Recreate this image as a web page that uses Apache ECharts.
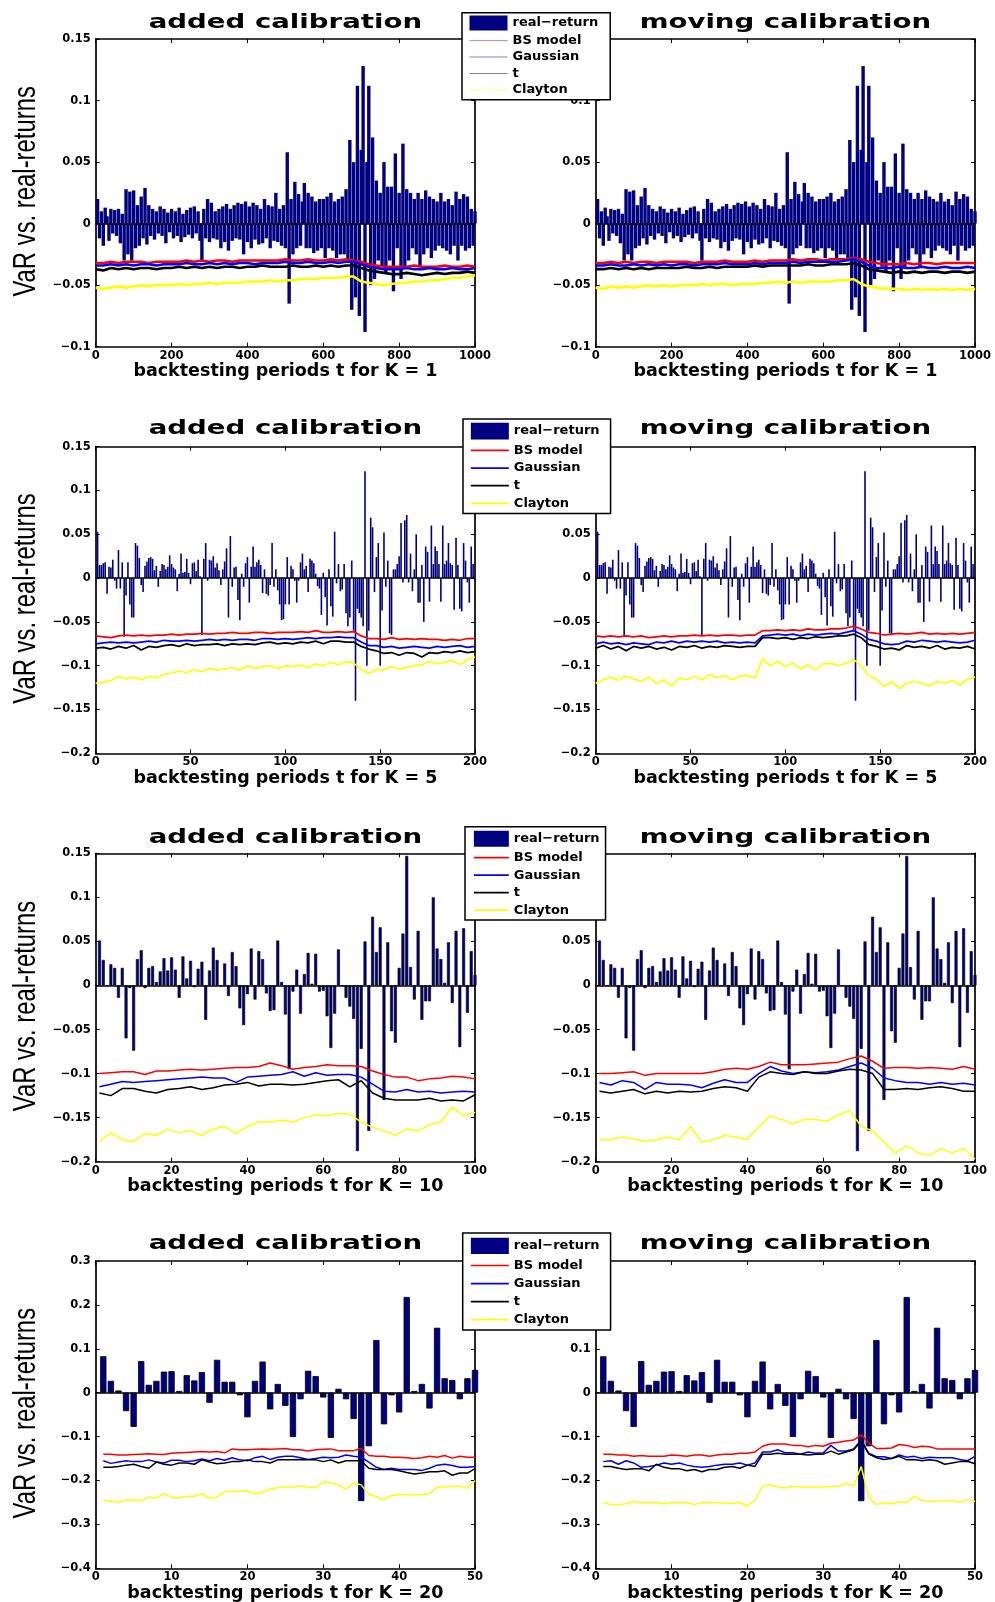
<!DOCTYPE html>
<html><head><meta charset="utf-8">
<script src="https://cdn.jsdelivr.net/npm/echarts@6.0.0/dist/echarts.min.js"></script>
<style>html,body{margin:0;padding:0;background:#fff}#c{width:995px;height:1602px}</style>
</head><body><div id="c"></div>
<script>
// ---------------- DATA ----------------
const NAMES = ['real\u2212return', 'BS model', 'Gaussian', 't', 'Clayton'];
const TITLES = ['added calibration', 'moving calibration'];
const Y_LABEL = 'VaR vs. real-returns';
const X_LABELS = ['backtesting periods t for K = 1', 'backtesting periods t for K = 5',
                  'backtesting periods t for K = 10', 'backtesting periods t for K = 20'];

const X_TICKS_K1 = [0, 200, 400, 600, 800, 1000];
const X_TICKS_K5 = [0, 50, 100, 150, 200];
const X_TICKS_K10 = [0, 20, 40, 60, 80, 100];
const X_TICKS_K20 = [0, 10, 20, 30, 40, 50];
const Y_TICKS_K1 = [-0.1, -0.05, 0, 0.05, 0.1, 0.15];
const Y_TICKS_K5 = [-0.2, -0.15, -0.1, -0.05, 0, 0.05, 0.1, 0.15];
const Y_TICKS_K10 = [-0.2, -0.15, -0.1, -0.05, 0, 0.05, 0.1, 0.15];
const Y_TICKS_K20 = [-0.4, -0.3, -0.2, -0.1, 0, 0.1, 0.2, 0.3];

// K = 1 : real returns sampled every 5 periods (t = 5..1000)
const K1_RET = [
 0.02,-0.012,0.01,-0.018,0.013,0.006,-0.014,0.012,-0.008,0.011,
 -0.01,0.012,-0.016,0.008,-0.03,0.028,-0.025,0.026,-0.03,0.027,
 -0.02,0.015,-0.018,0.022,-0.012,0.029,-0.017,0.015,-0.01,0.012,
 -0.013,0.01,-0.008,0.014,-0.01,0.012,-0.016,0.009,-0.007,0.012,
 -0.012,0.01,-0.01,0.013,-0.015,0.008,-0.011,0.011,-0.009,0.013,
 -0.012,0.014,-0.008,0.01,-0.014,-0.03,0.012,-0.012,0.02,-0.015,
 0.017,-0.012,0.01,-0.013,0.012,-0.02,0.014,-0.015,0.016,-0.022,
 0.012,-0.014,0.015,-0.012,0.017,-0.013,0.016,-0.025,0.018,-0.015,
 0.014,-0.02,0.017,-0.013,0.015,-0.017,0.012,-0.016,0.02,-0.012,
 0.015,-0.02,0.014,-0.014,0.025,-0.015,0.012,-0.018,0.015,-0.02,
 0.058,-0.065,0.02,-0.025,0.034,-0.02,0.024,-0.018,0.018,0.033,
 -0.02,0.025,-0.02,0.022,-0.024,0.018,-0.022,0.02,-0.02,0.02,
 -0.028,0.022,-0.02,0.025,-0.022,0.018,-0.028,0.02,-0.025,0.022,
 -0.025,0.028,-0.03,0.068,-0.07,0.05,-0.06,0.112,-0.075,0.06,
 0.128,-0.088,0.05,0.112,-0.05,0.07,-0.045,0.035,-0.03,0.025,
 -0.035,0.05,-0.04,0.03,-0.03,0.03,-0.055,0.057,-0.02,0.025,
 -0.045,0.065,-0.035,0.028,-0.03,0.025,-0.02,0.02,-0.025,0.025,
 -0.035,0.02,-0.025,0.027,-0.02,0.022,-0.028,0.02,-0.022,0.018,
 -0.018,0.025,-0.02,0.018,-0.022,0.02,-0.025,0.015,-0.018,0.026,
 -0.03,0.02,-0.018,0.024,-0.022,0.022,-0.02,0.012,-0.018,0.01
];
// K = 1 VaR lines sampled every 20 periods (t = 0..1000)
const K1_ADD_BS = [
 -0.032,-0.032,-0.031,-0.032,-0.031,-0.031,-0.031,-0.032,-0.031,-0.031,
 -0.031,-0.031,-0.030,-0.031,-0.030,-0.031,-0.030,-0.030,-0.031,-0.030,
 -0.030,-0.030,-0.030,-0.030,-0.030,-0.029,-0.030,-0.030,-0.029,-0.030,
 -0.030,-0.029,-0.030,-0.029,-0.030,-0.031,-0.033,-0.034,-0.035,-0.035,
 -0.035,-0.035,-0.034,-0.035,-0.035,-0.035,-0.034,-0.035,-0.035,-0.034,-0.035];
const K1_ADD_GAU = [
 -0.034,-0.034,-0.033,-0.034,-0.033,-0.034,-0.033,-0.033,-0.034,-0.033,
 -0.033,-0.033,-0.032,-0.033,-0.033,-0.032,-0.033,-0.032,-0.033,-0.032,
 -0.032,-0.033,-0.032,-0.032,-0.032,-0.031,-0.032,-0.032,-0.031,-0.032,
 -0.032,-0.031,-0.032,-0.031,-0.031,-0.033,-0.035,-0.036,-0.037,-0.037,
 -0.037,-0.036,-0.037,-0.037,-0.036,-0.037,-0.037,-0.036,-0.037,-0.037,-0.036];
const K1_ADD_T = [
 -0.037,-0.038,-0.036,-0.037,-0.036,-0.037,-0.036,-0.036,-0.037,-0.036,
 -0.036,-0.035,-0.036,-0.035,-0.036,-0.035,-0.036,-0.035,-0.035,-0.036,
 -0.035,-0.035,-0.034,-0.035,-0.035,-0.035,-0.034,-0.035,-0.035,-0.034,
 -0.035,-0.034,-0.035,-0.034,-0.034,-0.036,-0.038,-0.039,-0.040,-0.041,
 -0.041,-0.040,-0.041,-0.042,-0.041,-0.040,-0.041,-0.040,-0.040,-0.039,-0.040];
const K1_ADD_CLA = [
 -0.052,-0.053,-0.052,-0.051,-0.052,-0.051,-0.050,-0.051,-0.050,-0.050,
 -0.050,-0.049,-0.050,-0.049,-0.049,-0.048,-0.049,-0.048,-0.048,-0.048,
 -0.047,-0.047,-0.047,-0.046,-0.047,-0.046,-0.046,-0.045,-0.045,-0.045,
 -0.044,-0.044,-0.044,-0.043,-0.043,-0.047,-0.048,-0.049,-0.050,-0.049,
 -0.048,-0.048,-0.047,-0.047,-0.046,-0.046,-0.045,-0.044,-0.044,-0.043,-0.042];
const K1_MOV_BS = [
 -0.032,-0.032,-0.031,-0.032,-0.031,-0.032,-0.031,-0.031,-0.032,-0.031,
 -0.031,-0.031,-0.031,-0.032,-0.031,-0.031,-0.031,-0.030,-0.031,-0.031,
 -0.031,-0.030,-0.031,-0.030,-0.030,-0.030,-0.029,-0.030,-0.029,-0.029,
 -0.030,-0.029,-0.029,-0.029,-0.028,-0.029,-0.031,-0.032,-0.033,-0.033,
 -0.033,-0.032,-0.033,-0.032,-0.032,-0.033,-0.032,-0.032,-0.032,-0.032,-0.032];
const K1_MOV_GAU = [
 -0.034,-0.034,-0.033,-0.034,-0.034,-0.033,-0.034,-0.033,-0.034,-0.033,
 -0.034,-0.033,-0.033,-0.034,-0.033,-0.033,-0.033,-0.032,-0.033,-0.033,
 -0.033,-0.032,-0.033,-0.032,-0.032,-0.032,-0.031,-0.032,-0.031,-0.031,
 -0.031,-0.031,-0.031,-0.030,-0.029,-0.031,-0.034,-0.036,-0.036,-0.036,
 -0.035,-0.036,-0.036,-0.035,-0.036,-0.036,-0.035,-0.036,-0.036,-0.035,-0.036];
const K1_MOV_T = [
 -0.037,-0.037,-0.036,-0.037,-0.036,-0.037,-0.036,-0.037,-0.036,-0.036,
 -0.036,-0.036,-0.035,-0.036,-0.036,-0.035,-0.036,-0.035,-0.035,-0.035,
 -0.035,-0.034,-0.035,-0.034,-0.034,-0.034,-0.034,-0.034,-0.033,-0.034,
 -0.034,-0.033,-0.033,-0.033,-0.032,-0.034,-0.037,-0.038,-0.039,-0.040,
 -0.039,-0.040,-0.039,-0.040,-0.039,-0.039,-0.040,-0.039,-0.039,-0.040,-0.039];
const K1_MOV_CLA = [
 -0.052,-0.053,-0.051,-0.052,-0.051,-0.052,-0.051,-0.050,-0.051,-0.050,
 -0.051,-0.050,-0.050,-0.050,-0.049,-0.050,-0.049,-0.049,-0.050,-0.049,
 -0.049,-0.049,-0.048,-0.048,-0.047,-0.048,-0.047,-0.048,-0.047,-0.047,
 -0.047,-0.047,-0.046,-0.046,-0.045,-0.049,-0.051,-0.052,-0.053,-0.053,
 -0.053,-0.054,-0.053,-0.054,-0.053,-0.054,-0.053,-0.054,-0.053,-0.054,-0.053];

// K = 5 : real returns t = 1..200
const K5_RET = [
 0.053,0.015,0.015,0.017,0.018,-0.018,0.013,0.012,0.021,-0.003,
 -0.012,0.032,-0.012,0.018,-0.067,-0.02,0.018,-0.03,-0.045,-0.045,
 0.04,0.037,0.023,-0.008,-0.016,0.014,0.019,0.023,0.024,0.022,
 0.009,0.014,-0.01,0.008,0.016,0.015,0.01,0.013,0.026,0.016,
 0.012,0.01,-0.015,0.005,0.028,0.006,0.007,0.022,0.006,-0.007,
 0.017,0.018,0.008,0.021,0.002,-0.065,0.022,0.04,-0.003,0.021,
 0.02,0.025,0.012,0.017,0.009,-0.008,0.01,0.019,0.034,-0.045,
 0.048,-0.01,0.012,0.013,-0.025,-0.048,0.005,-0.01,0.017,0.024,
 -0.028,0.013,0.036,0.013,0.018,0.021,0.015,-0.017,0.01,-0.018,
 -0.02,-0.008,0.04,-0.01,0.01,-0.014,-0.03,-0.048,-0.047,-0.03,
 0.024,-0.03,0.014,0.01,-0.003,-0.028,-0.003,0.018,0.028,0.01,
 0.014,-0.016,0.022,0.02,0.017,0.005,-0.009,-0.012,-0.042,0.006,
 -0.022,-0.054,0.01,-0.032,-0.044,0.053,-0.006,0.016,-0.015,-0.013,
 0.016,-0.04,-0.055,-0.045,0.02,-0.06,-0.14,-0.035,-0.04,-0.045,
 -0.055,0.122,-0.1,-0.06,0.069,0.058,-0.016,0.024,0.04,-0.1,
 -0.037,0.052,-0.01,0.02,-0.063,-0.065,0.01,0.01,0.016,0.025,
 0.063,-0.005,0.066,0.072,-0.005,0.028,-0.015,0.01,0.05,-0.028,
 -0.028,0.015,-0.05,0.036,0.03,-0.027,0.06,0.016,0.036,0.031,
 0.016,-0.027,0.06,0.016,0.02,0.04,0.017,0.015,-0.036,0.046,
 0.015,-0.035,-0.038,0.04,0.02,-0.005,-0.028,0.036,0.016,-0.003
];
// K = 5 VaR lines sampled every 4 periods (t = 0..200)
const K5_ADD_BS = [-0.066,-0.067,-0.068,-0.066,-0.065,-0.066,-0.065,-0.066,-0.065,-0.065,-0.064,-0.065,-0.064,-0.064,-0.063,-0.064,-0.063,-0.063,-0.062,-0.063,-0.063,-0.062,-0.062,-0.063,-0.062,-0.062,-0.062,-0.061,-0.062,-0.060,-0.062,-0.062,-0.061,-0.062,-0.061,-0.066,-0.069,-0.069,-0.070,-0.068,-0.070,-0.069,-0.070,-0.069,-0.070,-0.070,-0.071,-0.070,-0.071,-0.069,-0.069];
const K5_ADD_GAU = [-0.075,-0.074,-0.073,-0.074,-0.073,-0.074,-0.073,-0.072,-0.073,-0.071,-0.072,-0.072,-0.071,-0.072,-0.071,-0.070,-0.071,-0.070,-0.071,-0.070,-0.070,-0.071,-0.069,-0.069,-0.070,-0.069,-0.070,-0.069,-0.068,-0.069,-0.068,-0.068,-0.067,-0.068,-0.068,-0.073,-0.077,-0.077,-0.079,-0.078,-0.080,-0.079,-0.078,-0.079,-0.080,-0.078,-0.079,-0.078,-0.077,-0.079,-0.078];
const K5_ADD_T = [-0.080,-0.079,-0.081,-0.078,-0.080,-0.077,-0.082,-0.078,-0.079,-0.077,-0.076,-0.078,-0.075,-0.077,-0.076,-0.076,-0.075,-0.077,-0.075,-0.076,-0.075,-0.076,-0.074,-0.073,-0.075,-0.074,-0.075,-0.073,-0.074,-0.072,-0.075,-0.072,-0.072,-0.073,-0.073,-0.078,-0.081,-0.083,-0.086,-0.085,-0.088,-0.085,-0.086,-0.090,-0.085,-0.086,-0.084,-0.085,-0.083,-0.085,-0.084];
const K5_ADD_CLA = [-0.120,-0.119,-0.117,-0.112,-0.115,-0.113,-0.116,-0.112,-0.114,-0.110,-0.108,-0.106,-0.108,-0.104,-0.107,-0.103,-0.105,-0.104,-0.102,-0.105,-0.100,-0.103,-0.101,-0.100,-0.103,-0.100,-0.101,-0.099,-0.102,-0.098,-0.100,-0.096,-0.099,-0.095,-0.097,-0.104,-0.109,-0.104,-0.105,-0.101,-0.104,-0.102,-0.100,-0.099,-0.095,-0.098,-0.096,-0.094,-0.099,-0.093,-0.090];
const K5_MOV_BS = [-0.066,-0.067,-0.066,-0.067,-0.066,-0.067,-0.066,-0.068,-0.067,-0.066,-0.067,-0.066,-0.066,-0.065,-0.066,-0.065,-0.066,-0.065,-0.065,-0.066,-0.065,-0.065,-0.060,-0.060,-0.059,-0.060,-0.059,-0.060,-0.058,-0.059,-0.059,-0.058,-0.058,-0.057,-0.055,-0.058,-0.062,-0.063,-0.065,-0.064,-0.063,-0.064,-0.063,-0.062,-0.064,-0.063,-0.064,-0.063,-0.064,-0.063,-0.062];
const K5_MOV_GAU = [-0.075,-0.073,-0.075,-0.074,-0.076,-0.074,-0.075,-0.076,-0.073,-0.074,-0.072,-0.074,-0.072,-0.073,-0.072,-0.073,-0.072,-0.074,-0.073,-0.074,-0.073,-0.074,-0.066,-0.065,-0.064,-0.065,-0.064,-0.066,-0.064,-0.065,-0.064,-0.063,-0.064,-0.062,-0.060,-0.064,-0.070,-0.072,-0.075,-0.076,-0.075,-0.072,-0.073,-0.071,-0.072,-0.073,-0.072,-0.073,-0.074,-0.073,-0.071];
const K5_MOV_T = [-0.080,-0.077,-0.081,-0.078,-0.083,-0.078,-0.080,-0.078,-0.081,-0.079,-0.082,-0.078,-0.079,-0.077,-0.080,-0.078,-0.079,-0.077,-0.078,-0.079,-0.078,-0.078,-0.068,-0.068,-0.069,-0.068,-0.070,-0.068,-0.069,-0.067,-0.068,-0.067,-0.066,-0.066,-0.064,-0.068,-0.076,-0.078,-0.081,-0.080,-0.082,-0.077,-0.079,-0.078,-0.080,-0.077,-0.081,-0.079,-0.080,-0.078,-0.081];
const K5_MOV_CLA = [-0.120,-0.116,-0.113,-0.117,-0.112,-0.115,-0.118,-0.113,-0.120,-0.116,-0.123,-0.114,-0.116,-0.112,-0.116,-0.110,-0.114,-0.111,-0.116,-0.112,-0.111,-0.114,-0.092,-0.100,-0.095,-0.101,-0.097,-0.104,-0.099,-0.105,-0.098,-0.097,-0.100,-0.097,-0.093,-0.100,-0.112,-0.115,-0.124,-0.118,-0.126,-0.120,-0.118,-0.120,-0.123,-0.118,-0.120,-0.117,-0.122,-0.115,-0.113];

// K = 10 : real returns t = 1..100
const K10_RET = [
 0.051,0.029,0.0,0.024,0.02,-0.014,0.02,-0.06,-0.003,-0.074,
 0.03,0.04,-0.003,0.02,0.022,0.004,0.016,0.031,0.017,0.032,
 0.018,-0.014,0.033,0.008,0.028,-0.002,0.019,0.027,-0.039,0.017,
 0.043,0.029,0.0,0.025,-0.012,0.038,0.022,-0.026,-0.045,-0.01,
 0.042,-0.016,0.039,0.03,-0.009,-0.029,-0.028,0.051,0.004,-0.033,
 -0.095,-0.007,0.018,-0.032,0.013,0.037,0.002,0.036,-0.007,-0.006,
 -0.035,-0.071,-0.032,0.041,0.0,-0.014,-0.024,-0.038,-0.188,-0.072,
 0.05,-0.165,0.078,0.038,0.066,-0.13,0.049,-0.052,-0.065,0.02,
 0.059,0.147,0.021,-0.016,0.062,-0.039,-0.018,-0.018,0.1,0.042,
 0.03,0.003,0.049,-0.02,0.062,-0.07,0.065,-0.031,0.039,0.012
];
// K = 10 VaR lines sampled every 3 periods (t = 1..100)
const K10_ADD_BS = [-0.100,-0.099,-0.098,-0.098,-0.101,-0.097,-0.097,-0.096,-0.095,-0.096,-0.095,-0.094,-0.093,-0.093,-0.092,-0.088,-0.091,-0.095,-0.093,-0.092,-0.090,-0.091,-0.091,-0.092,-0.097,-0.101,-0.104,-0.104,-0.108,-0.106,-0.105,-0.103,-0.104,-0.106];
const K10_ADD_GAU = [-0.115,-0.112,-0.109,-0.110,-0.109,-0.108,-0.107,-0.106,-0.105,-0.104,-0.105,-0.105,-0.110,-0.104,-0.103,-0.102,-0.101,-0.098,-0.103,-0.099,-0.102,-0.101,-0.101,-0.104,-0.112,-0.120,-0.121,-0.118,-0.121,-0.120,-0.122,-0.121,-0.120,-0.121];
const K10_ADD_T = [-0.122,-0.125,-0.117,-0.117,-0.120,-0.122,-0.118,-0.117,-0.115,-0.118,-0.116,-0.113,-0.112,-0.110,-0.114,-0.112,-0.112,-0.113,-0.112,-0.110,-0.108,-0.107,-0.115,-0.108,-0.122,-0.128,-0.130,-0.130,-0.130,-0.128,-0.131,-0.130,-0.131,-0.124];
const K10_ADD_CLA = [-0.177,-0.167,-0.175,-0.177,-0.168,-0.170,-0.163,-0.167,-0.165,-0.170,-0.163,-0.160,-0.168,-0.160,-0.155,-0.155,-0.153,-0.155,-0.150,-0.147,-0.148,-0.145,-0.146,-0.155,-0.161,-0.165,-0.170,-0.163,-0.165,-0.158,-0.155,-0.138,-0.148,-0.144];
const K10_MOV_BS = [-0.100,-0.100,-0.099,-0.098,-0.102,-0.100,-0.100,-0.100,-0.100,-0.100,-0.098,-0.095,-0.094,-0.095,-0.092,-0.087,-0.090,-0.090,-0.090,-0.089,-0.088,-0.087,-0.083,-0.080,-0.086,-0.094,-0.093,-0.093,-0.094,-0.093,-0.094,-0.095,-0.092,-0.095];
const K10_MOV_GAU = [-0.110,-0.113,-0.108,-0.110,-0.118,-0.110,-0.112,-0.112,-0.113,-0.116,-0.111,-0.107,-0.110,-0.110,-0.100,-0.092,-0.097,-0.100,-0.098,-0.099,-0.098,-0.096,-0.092,-0.088,-0.094,-0.105,-0.108,-0.110,-0.110,-0.112,-0.110,-0.112,-0.111,-0.113];
const K10_MOV_T = [-0.120,-0.122,-0.120,-0.118,-0.123,-0.120,-0.122,-0.120,-0.121,-0.120,-0.117,-0.115,-0.116,-0.120,-0.104,-0.098,-0.100,-0.101,-0.098,-0.100,-0.100,-0.097,-0.095,-0.096,-0.100,-0.118,-0.118,-0.117,-0.118,-0.116,-0.115,-0.117,-0.120,-0.120];
const K10_MOV_CLA = [-0.175,-0.175,-0.172,-0.174,-0.177,-0.175,-0.172,-0.175,-0.160,-0.178,-0.175,-0.170,-0.172,-0.175,-0.160,-0.148,-0.152,-0.157,-0.152,-0.152,-0.154,-0.147,-0.142,-0.160,-0.165,-0.178,-0.190,-0.182,-0.190,-0.193,-0.185,-0.190,-0.185,-0.197];

// K = 20 : real returns t = 1..50
const K20_RET = [0.083,0.027,0.005,-0.042,-0.078,0.072,0.018,0.027,0.048,0.049,0.004,0.04,0.028,0.047,-0.023,0.075,0.025,0.025,-0.006,-0.056,0.027,0.071,-0.038,0.02,-0.03,-0.101,-0.015,0.05,0.038,-0.011,-0.103,0.009,-0.015,-0.06,-0.247,-0.122,0.12,-0.072,-0.006,-0.045,0.218,0.004,0.02,-0.036,0.148,0.033,0.029,-0.015,0.033,0.052];
// K = 20 VaR lines t = 1..50
const K20_ADD_BS = [-0.14,-0.14,-0.142,-0.142,-0.141,-0.14,-0.139,-0.14,-0.141,-0.138,-0.137,-0.136,-0.135,-0.134,-0.135,-0.134,-0.137,-0.128,-0.13,-0.13,-0.129,-0.128,-0.129,-0.128,-0.127,-0.13,-0.13,-0.133,-0.13,-0.129,-0.128,-0.132,-0.132,-0.132,-0.127,-0.143,-0.145,-0.145,-0.147,-0.147,-0.148,-0.15,-0.148,-0.145,-0.147,-0.143,-0.149,-0.145,-0.147,-0.147];
const K20_ADD_GAU = [-0.155,-0.161,-0.158,-0.155,-0.157,-0.157,-0.153,-0.158,-0.16,-0.154,-0.154,-0.157,-0.155,-0.151,-0.155,-0.15,-0.154,-0.148,-0.153,-0.155,-0.148,-0.145,-0.152,-0.147,-0.145,-0.145,-0.148,-0.152,-0.15,-0.147,-0.148,-0.147,-0.142,-0.145,-0.147,-0.158,-0.17,-0.175,-0.172,-0.175,-0.175,-0.175,-0.177,-0.172,-0.165,-0.163,-0.166,-0.17,-0.17,-0.168];
const K20_ADD_T = [-0.17,-0.17,-0.168,-0.165,-0.163,-0.168,-0.172,-0.158,-0.163,-0.165,-0.16,-0.16,-0.163,-0.153,-0.158,-0.162,-0.16,-0.157,-0.157,-0.153,-0.157,-0.157,-0.16,-0.153,-0.153,-0.153,-0.152,-0.153,-0.153,-0.157,-0.153,-0.16,-0.155,-0.155,-0.155,-0.172,-0.175,-0.175,-0.175,-0.178,-0.182,-0.185,-0.183,-0.18,-0.18,-0.178,-0.188,-0.183,-0.183,-0.173];
const K20_ADD_CLA = [-0.245,-0.247,-0.25,-0.244,-0.245,-0.246,-0.238,-0.24,-0.23,-0.238,-0.24,-0.236,-0.236,-0.23,-0.24,-0.238,-0.225,-0.225,-0.225,-0.224,-0.23,-0.226,-0.22,-0.216,-0.215,-0.215,-0.212,-0.216,-0.216,-0.203,-0.205,-0.21,-0.22,-0.205,-0.21,-0.232,-0.237,-0.243,-0.234,-0.232,-0.232,-0.233,-0.232,-0.23,-0.215,-0.215,-0.213,-0.213,-0.218,-0.2];
const K20_MOV_BS = [-0.14,-0.14,-0.142,-0.142,-0.145,-0.143,-0.145,-0.145,-0.145,-0.142,-0.143,-0.145,-0.142,-0.142,-0.145,-0.142,-0.14,-0.14,-0.138,-0.138,-0.135,-0.122,-0.117,-0.117,-0.117,-0.12,-0.12,-0.123,-0.12,-0.122,-0.115,-0.113,-0.11,-0.108,-0.096,-0.115,-0.127,-0.127,-0.126,-0.118,-0.12,-0.125,-0.122,-0.123,-0.128,-0.128,-0.128,-0.128,-0.128,-0.128];
const K20_MOV_GAU = [-0.157,-0.155,-0.163,-0.155,-0.16,-0.17,-0.168,-0.165,-0.16,-0.163,-0.16,-0.165,-0.168,-0.17,-0.168,-0.165,-0.163,-0.163,-0.16,-0.165,-0.16,-0.135,-0.135,-0.13,-0.137,-0.137,-0.14,-0.135,-0.138,-0.137,-0.12,-0.133,-0.133,-0.128,-0.108,-0.138,-0.146,-0.146,-0.15,-0.142,-0.147,-0.145,-0.15,-0.147,-0.148,-0.148,-0.148,-0.152,-0.155,-0.145];
const K20_MOV_T = [-0.168,-0.168,-0.172,-0.175,-0.173,-0.173,-0.178,-0.163,-0.17,-0.173,-0.173,-0.178,-0.175,-0.18,-0.175,-0.175,-0.17,-0.168,-0.172,-0.165,-0.168,-0.14,-0.14,-0.138,-0.14,-0.14,-0.14,-0.142,-0.14,-0.14,-0.133,-0.14,-0.135,-0.13,-0.11,-0.14,-0.148,-0.152,-0.15,-0.145,-0.153,-0.152,-0.155,-0.153,-0.155,-0.163,-0.16,-0.157,-0.156,-0.162];
const K20_MOV_CLA = [-0.25,-0.255,-0.255,-0.253,-0.248,-0.25,-0.25,-0.25,-0.253,-0.25,-0.25,-0.25,-0.255,-0.25,-0.25,-0.25,-0.252,-0.252,-0.25,-0.258,-0.245,-0.213,-0.21,-0.215,-0.217,-0.213,-0.215,-0.215,-0.215,-0.215,-0.213,-0.213,-0.207,-0.212,-0.168,-0.238,-0.255,-0.25,-0.253,-0.248,-0.25,-0.236,-0.245,-0.247,-0.248,-0.246,-0.245,-0.25,-0.243,-0.248];

// ---------------- LAYOUT / STYLE ----------------
const PANELS = [
  {xTicks: X_TICKS_K1, yTicks: Y_TICKS_K1, ret: K1_RET, retStart: 5, retStep: 5, lineStart: 0, lineStep: 20,
   lines: [[K1_ADD_BS, K1_ADD_GAU, K1_ADD_T, K1_ADD_CLA], [K1_MOV_BS, K1_MOV_GAU, K1_MOV_T, K1_MOV_CLA]]},
  {xTicks: X_TICKS_K5, yTicks: Y_TICKS_K5, ret: K5_RET, retStart: 1, retStep: 1, lineStart: 0, lineStep: 4,
   lines: [[K5_ADD_BS, K5_ADD_GAU, K5_ADD_T, K5_ADD_CLA], [K5_MOV_BS, K5_MOV_GAU, K5_MOV_T, K5_MOV_CLA]]},
  {xTicks: X_TICKS_K10, yTicks: Y_TICKS_K10, ret: K10_RET, retStart: 1, retStep: 1, lineStart: 1, lineStep: 3,
   lines: [[K10_ADD_BS, K10_ADD_GAU, K10_ADD_T, K10_ADD_CLA], [K10_MOV_BS, K10_MOV_GAU, K10_MOV_T, K10_MOV_CLA]]},
  {xTicks: X_TICKS_K20, yTicks: Y_TICKS_K20, ret: K20_RET, retStart: 1, retStep: 1, lineStart: 1, lineStep: 1,
   lines: [[K20_ADD_BS, K20_ADD_GAU, K20_ADD_T, K20_ADD_CLA], [K20_MOV_BS, K20_MOV_GAU, K20_MOV_T, K20_MOV_CLA]]}
];
const ROWS = [
  {top: 39, height: 307.7, titleY: 22.3, nameGap: 12.5, barW: 3.4, barBorder: 0, lineW: 2.6,
   legend: {left: 462, top: 12.7, padding: [2.8, 12, 3.2, 7], itemWidth: 38, itemHeight: 15, itemGap: 3.5, faded: true}},
  {top: 446.7, height: 306.6, titleY: 429, nameGap: 12, barW: 1.6, barBorder: 0, lineW: 1.7,
   legend: {left: 463, top: 419, padding: [3.7, 11, 3.4, 7], itemWidth: 38, itemHeight: 16.7, itemGap: 4.3}},
  {top: 853.3, height: 308.4, titleY: 837.3, nameGap: 10.5, barW: 3, barBorder: 0.6, lineW: 1.5,
   legend: {left: 465, top: 826.7, padding: [4, 6, 3.3, 8], itemWidth: 35, itemHeight: 16, itemGap: 4.5}},
  {top: 1261, height: 307.3, titleY: 1244, nameGap: 13, barW: 6.3, barBorder: 0.8, lineW: 1.5,
   legend: {left: 462.7, top: 1233, padding: [4.7, 11, 3.8, 7.3], itemWidth: 38, itemHeight: 16.3, itemGap: 5}}
];
const COL_LEFT = [95.7, 595.7];
const PLOT_W = 379.3;
const LINE_COLORS = ['#ff0000', '#0000ff', '#000000', '#ffff00'];
const BAR_COLOR = '#000080';
const TICK_FONT = {fontFamily: 'DejaVu Sans', fontWeight: 'bold', fontSize: 11.5, color: '#000'};

function fmtY(v) {
  const r = Math.round(v * 1000) / 1000;
  if (r === 0) return '0';
  return (r < 0 ? '\u2212' : '') + String(Math.abs(r));
}
function fmtX(v) { return String(Math.round(v)); }

const grids = [], xAxes = [], yAxes = [], series = [], legends = [], graphics = [];
PANELS.forEach((p, ri) => {
  const row = ROWS[ri];
  const xt = p.xTicks, yt = p.yTicks;
  [0, 1].forEach(ci => {
    const g = grids.length;
    grids.push({left: COL_LEFT[ci], top: row.top, width: PLOT_W, height: row.height, containLabel: false, outerBoundsMode: 'none'});
    const common = {
      type: 'value', gridIndex: g, splitLine: {show: false},
      axisLine: {show: true, onZero: false, lineStyle: {color: '#000', width: 1.7}},
      axisTick: {show: true, inside: true, length: 4, lineStyle: {color: '#000', width: 1}}
    };
    const xr = {min: xt[0], max: xt[xt.length - 1], interval: xt[1] - xt[0]};
    const yr = {min: yt[0], max: yt[yt.length - 1], interval: +(yt[1] - yt[0]).toFixed(4)};
    xAxes.push(Object.assign({}, common, xr, {
      position: 'bottom',
      axisLabel: Object.assign({show: true, margin: 3, formatter: fmtX, showMinLabel: true, showMaxLabel: true}, TICK_FONT),
      name: X_LABELS[ri], nameLocation: 'middle', nameGap: row.nameGap,
      nameTextStyle: {fontFamily: 'DejaVu Sans', fontWeight: 'bold', fontSize: 17.5, color: '#000'}
    }));
    xAxes.push(Object.assign({}, common, xr, {position: 'top', axisLabel: {show: false}}));
    yAxes.push(Object.assign({}, common, yr, {
      position: 'left',
      axisLabel: Object.assign({show: true, margin: 5, formatter: fmtY, showMinLabel: true, showMaxLabel: true}, TICK_FONT)
    }));
    yAxes.push(Object.assign({}, common, yr, {position: 'right', axisLabel: {show: false}}));

    const xi = 2 * g, yi = 2 * g;
    series.push({
      type: 'bar', name: NAMES[0], xAxisIndex: xi, yAxisIndex: yi,
      data: p.ret.map((v, i) => [p.retStart + i * p.retStep, v]),
      barWidth: row.barW,
      itemStyle: {color: BAR_COLOR, borderColor: '#000', borderWidth: row.barBorder},
      z: 2,
      markLine: {silent: true, symbol: ['none', 'none'], label: {show: false},
        lineStyle: {color: '#000', width: 1.5, type: 'solid'}, data: [{yAxis: 0}]}
    });
    p.lines[ci].forEach((arr, k) => {
      series.push({
        type: 'line', name: NAMES[k + 1], xAxisIndex: xi, yAxisIndex: yi,
        data: arr.map((v, i) => [p.lineStart + i * p.lineStep, v]),
        symbol: 'none', showSymbol: false,
        lineStyle: {color: LINE_COLORS[k], width: row.lineW},
        itemStyle: {color: LINE_COLORS[k]}, z: 3
      });
    });

    graphics.push({
      type: 'text', x: COL_LEFT[ci] + PLOT_W / 2, y: row.titleY, scaleX: 1.38, z: 20,
      style: {text: TITLES[ci], fontSize: 20, fontWeight: 'bold', fontFamily: 'DejaVu Sans', fill: '#000', align: 'center', verticalAlign: 'middle'}
    });
    if (ci === 0) {
      graphics.push({
        type: 'text', x: 26, y: row.top + row.height / 2 - 1.5, rotation: Math.PI / 2, scaleX: 0.77, z: 20,
        style: {text: Y_LABEL, fontSize: 31, fontFamily: 'Liberation Sans', fill: '#000', align: 'center', verticalAlign: 'middle'}
      });
    }
  });
  const L = row.legend;
  legends.push({
    show: true, orient: 'vertical', left: L.left, top: L.top, padding: L.padding,
    itemWidth: L.itemWidth, itemHeight: L.itemHeight, itemGap: L.itemGap,
    backgroundColor: '#fff', borderColor: '#000', borderWidth: 1.5, borderRadius: 0,
    selectedMode: false, z: 10,
    textStyle: {fontFamily: 'DejaVu Sans', fontWeight: 'bold', fontSize: 13, color: '#000'},
    lineStyle: L.faded ? {width: 1, opacity: 0.5} : {width: 1.7},
    data: [{name: NAMES[0], icon: 'rect'}].concat(
      NAMES.slice(1).map(n => ({name: n, itemStyle: {opacity: 0}})))
  });
});

const chart = echarts.init(document.getElementById('c'), null, {renderer: 'canvas'});
chart.setOption({
  animation: false,
  backgroundColor: '#fff',
  grid: grids, xAxis: xAxes, yAxis: yAxes, series: series, legend: legends,
  graphic: graphics
});
</script></body></html>
